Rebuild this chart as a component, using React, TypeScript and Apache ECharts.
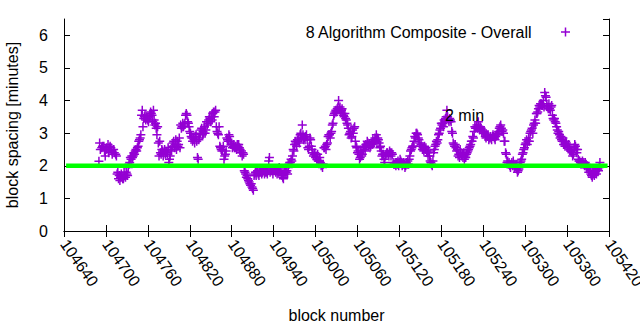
import React, { useEffect, useRef } from 'react';
import * as echarts from 'echarts';

const blocks = [104690,104691,104694,104697,104700,104703,104705,104708,104711,104714,104716,104718,104721,104724,104727,104730,104733,104736,104739,104742,104745,104748,104750,104752,104753,104756,104759,104762,104765,104768,104771,104774,104776,104777,104780,104783,104786,104788,104791,104794,104797,104800,104803,104806,104809,104812,104815,104818,104821,104823,104826,104829,104832,104834,104837,104840,104843,104846,104849,104852,104854,104857,104860,104862,104864,104867,104869,104871,104874,104877,104880,104882,104885,104888,104891,104894,104897,104899,104902,104904,104906,104909,104911,104913,104916,104919,104922,104925,104928,104931,104934,104937,104940,104943,104946,104949,104951,104954,104957,104960,104963,104966,104969,104972,104975,104978,104981,104984,104986,104989,104992,104995,104998,105001,105004,105007,105010,105013,105016,105019,105022,105025,105027,105030,105033,105034,105037,105040,105043,105046,105049,105052,105055,105058,105061,105064,105067,105069,105072,105075,105078,105081,105084,105087,105090,105093,105096,105099,105102,105105,105107,105110,105113,105116,105119,105122,105125,105128,105131,105134,105137,105140,105143,105145,105148,105151,105154,105157,105160,105163,105166,105169,105172,105175,105178,105181,105183,105186,105188,105190,105193,105196,105198,105201,105204,105207,105210,105213,105216,105218,105221,105224,105227,105230,105233,105236,105239,105242,105245,105248,105251,105253,105256,105259,105262,105265,105268,105271,105273,105275,105278,105281,105284,105287,105290,105293,105296,105299,105301,105304,105307,105310,105313,105316,105319,105322,105325,105328,105330,105332,105335,105338,105340,105343,105346,105349,105352,105355,105358,105360,105363,105366,105369,105372,105375,105378,105381,105384,105387,105390,105393,105395,105398,105401,105404,105407];

const spacing = [2.14,2.7,2.55,2.6,2.5,2.65,2.55,2.45,2.5,2.35,1.75,1.6,1.65,1.6,1.7,1.75,2.05,2.2,2.3,2.45,2.55,2.8,2.95,3.7,3.2,3.55,3.45,3.5,3.6,3.7,3.3,3.2,2.3,2.75,2.5,2.4,2.45,2.35,2.2,2.45,2.75,2.8,2.6,2.55,3.2,3.25,3.6,3.3,3.0,2.85,2.8,2.95,2.2,2.85,3.15,3.0,3.1,3.3,3.45,3.4,3.65,3.7,3.0,3.2,2.55,2.5,2.2,2.35,2.8,2.9,2.7,2.6,2.55,2.65,2.55,2.45,2.35,1.8,1.7,1.55,1.45,1.35,1.25,1.75,1.8,1.7,1.8,1.85,1.8,1.75,2.25,1.85,1.9,1.8,1.85,1.9,1.75,1.6,1.8,1.75,2.1,2.15,2.45,2.7,2.75,2.95,3.25,2.85,2.9,2.55,2.85,2.5,2.35,2.3,2.15,2.1,1.95,2.55,2.65,2.95,3.0,3.3,3.6,3.65,4.0,3.75,3.7,3.55,3.45,3.25,3.0,2.9,3.15,2.6,2.45,2.25,2.35,2.5,2.65,2.7,2.55,2.65,2.75,2.95,2.8,2.6,2.35,2.1,2.4,2.3,2.4,2.35,2.05,2.1,2.0,2.15,2.05,1.95,2.05,2.2,2.5,2.6,2.85,3.0,2.8,2.65,2.55,2.5,2.4,2.3,2.05,2.4,2.65,2.8,3.1,3.25,3.2,3.45,3.7,3.4,3.4,3.0,2.65,2.55,2.3,2.5,2.35,2.2,2.35,2.45,2.6,2.75,3.05,3.2,3.35,3.2,3.1,3.0,2.95,2.8,2.85,2.9,2.85,2.95,3.05,3.25,3.1,2.75,2.35,2.15,2.0,2.1,2.05,2.05,1.85,2.1,2.35,2.55,2.7,2.75,3.0,3.15,3.3,3.6,3.75,3.9,3.85,4.25,4.1,3.8,3.75,3.85,3.45,3.35,3.1,2.95,2.8,2.65,2.75,2.6,2.55,2.45,2.35,2.6,2.5,2.15,2.1,2.1,2.05,1.95,1.85,1.7,1.75,1.85,1.9,2.1];

// further blocks of the same series, [block, minutes]
const morePoints: [number, number][] = [
  [104692,2.5],[104695,2.6],[104698,2.45],[104699,2.3],[104701,2.55],[104704,2.4],[104706,2.6],[104707,2.55],[104709,2.35],[104712,2.4],[104715,2.3],
  [104717,1.8],[104719,1.7],[104720,1.55],[104722,1.75],[104723,1.65],[104725,1.6],[104726,1.8],[104728,1.65],[104729,1.8],[104731,1.7],
  [104732,1.95],[104734,2.1],[104735,2.25],[104737,2.3],[104738,2.25],[104740,2.4],[104741,2.35],[104743,2.5],[104744,2.45],[104746,2.6],[104747,2.75],[104749,2.85],
  [104751,3.55],[104754,3.45],[104755,3.5],[104757,3.4],[104758,3.5],[104760,3.4],[104761,3.35],[104763,3.55],[104764,3.65],[104766,3.55],[104767,3.35],[104769,3.4],[104770,3.25],[104772,3.15],[104773,2.95],
  [104775,2.7],[104778,2.4],[104779,2.35],[104781,2.45],[104782,2.3],[104784,2.5],[104785,2.35],[104787,2.4],[104789,2.55],[104790,2.1],[104792,2.3],[104793,2.5],
  [104795,2.6],[104796,2.7],[104798,2.55],[104799,2.65],[104801,2.5],[104802,2.75],[104804,2.65],[104805,2.85],[104807,3.25],[104808,3.15],[104810,3.3],[104811,3.2],[104813,3.3],[104814,3.55],[104816,3.55],[104817,3.35],[104819,3.2],[104820,3.05],
  [104822,2.9],[104824,2.75],[104825,2.85],[104827,2.7],[104828,2.9],[104830,2.75],[104831,2.25],[104833,2.8],[104835,3.0],[104836,3.1],[104838,2.95],[104839,3.05],[104841,3.2],[104842,3.0],[104844,3.35],[104845,3.25],[104847,3.4],[104848,3.5],[104850,3.35],[104851,3.5],[104853,3.6],[104855,3.5],[104856,3.65],[104858,3.2],[104859,3.05],
  [104861,2.95],[104863,2.6],[104865,2.5],[104866,2.45],[104868,2.6],[104870,2.3],[104872,2.45],[104873,2.85],[104875,2.75],[104876,2.95],[104878,2.75],[104879,2.65],[104881,2.55],[104883,2.65],[104884,2.55],[104886,2.6],[104887,2.5],[104889,2.6],[104890,2.65],[104892,2.5],[104893,2.4],[104895,2.3],[104896,2.4],[104898,1.85],
  [104900,1.75],[104901,1.65],[104903,1.6],[104905,1.5],[104907,1.4],[104908,1.45],[104910,1.3],[104912,1.7],[104914,1.8],[104915,1.7],[104917,1.85],[104918,1.75],[104920,1.8],[104921,1.9],[104923,1.75],[104924,1.8],[104926,1.9],[104927,1.75],[104929,1.85],[104930,1.8],[104932,1.85],
  [104933,2.15],[104935,1.8],[104936,1.9],[104938,1.85],[104939,1.75],[104941,1.85],[104942,1.9],[104944,1.85],[104945,1.75],[104947,1.8],[104948,1.95],[104950,1.85],[104952,1.7],[104953,1.65],[104955,1.75],[104956,1.85],[104958,1.8],[104959,1.85],[104961,1.95],[104962,2.05],
  [104964,2.1],[104965,2.2],[104967,2.3],[104968,2.5],[104970,2.65],[104971,2.75],[104973,2.6],[104974,2.8],[104976,2.85],[104977,2.7],[104979,3.0],[104980,2.85],[104982,2.95],[104983,2.8],
  [104985,2.8],[104987,2.95],[104988,2.8],[104990,2.5],[104991,2.6],[104993,2.8],[104994,2.6],[104996,2.4],[104997,2.3],[104999,2.4],[105000,2.25],[105002,2.2],[105003,2.35],[105005,2.15],[105006,2.25],[105008,2.0],[105009,2.05],[105011,2.05],[105012,2.55],
  [105014,2.6],[105015,2.5],[105017,2.7],[105018,2.9],[105020,2.95],[105021,2.85],[105023,3.05],[105024,3.25],[105026,3.55],[105028,3.65],[105029,3.7],[105031,3.75],[105032,3.8],
  [105035,3.8],[105036,3.65],[105038,3.75],[105039,3.6],[105041,3.5],[105042,3.6],[105044,3.4],[105045,3.3],[105047,3.15],[105048,2.95],[105050,3.05],[105051,2.85],[105053,3.1],[105054,3.0],[105056,3.2],[105057,2.75],[105059,2.55],[105060,2.4],
  [105062,2.35],[105063,2.2],[105065,2.45],[105066,2.3],[105068,2.55],[105070,2.6],[105071,2.45],[105073,2.6],[105074,2.75],[105076,2.6],[105077,2.65],[105079,2.6],[105080,2.7],[105082,2.8],[105083,2.7],[105085,2.85],[105086,2.8],[105088,2.75],[105089,2.85],[105091,2.7],[105092,2.55],[105094,2.45],[105095,2.3],[105097,2.35],[105098,2.2],[105100,2.3],
  [105101,2.35],[105103,2.4],[105104,2.35],[105106,2.45],[105108,2.3],[105109,2.4],[105111,2.1],[105112,2.05],[105114,2.1],[105115,2.0],[105117,2.05],[105118,2.15],[105120,2.1],[105121,2.2],[105123,2.1],[105124,2.0],[105126,2.1],[105127,2.05],[105129,2.0],[105130,2.1],[105132,2.15],[105133,2.05],[105135,2.3],
  [105136,2.45],[105138,2.55],[105139,2.6],[105141,2.75],[105142,2.9],[105144,3.0],[105146,2.95],
  [105147,2.85],[105149,2.7],[105150,2.6],[105152,2.6],[105153,2.5],[105155,2.45],[105156,2.6],[105158,2.55],[105159,2.45],[105161,2.3],[105162,2.45],[105164,2.15],[105165,2.1],[105167,2.0],
  [105168,2.15],[105170,2.5],[105171,2.6],[105173,2.75],[105174,2.7],[105176,2.95],[105177,3.0],[105179,3.15],[105180,3.3],[105182,3.3],[105184,3.4],[105185,3.35],[105187,3.5],
  [105189,3.5],[105191,3.35],[105192,3.45],[105194,3.35],[105195,3.05],[105197,2.7],[105199,2.6],[105200,2.65],[105202,2.45],[105203,2.5],[105205,2.35],[105206,2.25],[105208,2.4],[105209,2.3],[105211,2.25],[105212,2.4],[105214,2.3],[105215,2.25],
  [105217,2.4],[105219,2.5],[105220,2.55],[105222,2.65],[105223,2.75],[105225,2.9],[105226,2.85],[105228,3.2],[105229,3.15],[105231,3.25],[105232,3.15],[105234,3.2],[105235,3.1],[105237,3.15],[105238,3.05],[105240,3.0],
  [105241,3.05],[105243,2.9],[105244,2.85],[105246,2.9],[105247,2.95],[105249,2.85],[105250,2.9],[105252,2.8],[105254,2.95],[105255,2.9],[105257,2.8],[105258,2.9],[105260,3.0],[105261,2.95],[105263,3.15],[105264,3.2],[105266,3.15],[105267,3.05],[105269,3.0],[105270,2.75],[105272,2.4],
  [105274,2.1],[105276,2.05],[105277,2.1],[105279,1.95],[105280,2.05],[105282,2.0],[105283,2.15],[105285,1.95],[105286,2.0],[105288,1.9],[105289,1.8],[105291,1.9],[105292,2.0],[105294,2.15],[105295,2.2],[105297,2.4],[105298,2.5],[105300,2.65],
  [105302,2.8],[105303,2.65],[105305,2.85],[105306,2.75],[105308,3.05],[105309,3.1],[105311,3.0],[105312,3.25],[105314,3.4],[105315,3.3],[105317,3.6],[105318,3.65],[105320,3.85],[105321,3.8],[105323,3.9],[105324,3.85],[105326,4.0],[105327,3.8],[105329,4.15],[105331,3.85],
  [105333,3.75],[105334,3.9],[105336,3.7],[105337,3.8],[105339,3.55],[105341,3.4],[105342,3.45],[105344,3.3],[105345,3.2],[105347,3.0],[105348,3.05],[105350,2.85],[105351,2.9],[105353,2.75],[105354,2.85],[105356,2.65],[105357,2.6],[105359,2.7],[105361,2.55],[105362,2.65],[105364,2.5],[105365,2.45],
  [105367,2.4],[105368,2.3],[105370,2.55],[105371,2.65],[105373,2.5],[105374,2.4],[105376,2.2],[105377,2.15],[105379,2.1],[105380,2.05],[105382,2.15],[105383,2.05],[105385,2.0],[105386,2.1],[105388,1.95],[105389,2.0],[105391,1.8],[105392,1.9],[105394,1.75],[105396,1.65],[105397,1.8],[105399,1.7],[105400,1.8],[105402,1.75],[105403,1.9],[105405,1.85],[105406,1.95],
];

const refBlocks = [104643, 105418];
const refValues = [2, 2];

const seriesName = '8 Algorithm Composite - Overall';
const refName = '2 min';

const FONT = '"Liberation Sans", Arial, sans-serif';
const PLUS = 'path://M3.75,0H5.25V3.75H9V5.25H5.25V9H3.75V5.25H0V3.75H3.75Z';

export default function App() {
  const ref = useRef<HTMLDivElement>(null);
  useEffect(() => {
    document.body.style.margin = '0';
    if (!ref.current) return;
    const chart = echarts.init(ref.current, undefined, { renderer: 'svg' });
    const axisCommon = {
      axisLine: { show: true, lineStyle: { color: '#000', width: 1 } },
      axisTick: { show: true, inside: true, length: 6, lineStyle: { color: '#000', width: 1 } },
      splitLine: { show: false },
    };
    const points = blocks.map((b, i) => [b, spacing[i]]).concat(morePoints.map((p) => [p[0], p[1]]));
    chart.setOption({
      animation: false,
      backgroundColor: '#fff',
      textStyle: { fontFamily: FONT },
      grid: { left: 64, right: 31, top: 19, bottom: 99, containLabel: false, outerBoundsMode: 'none' },
      legend: {
        data: [{ name: seriesName, icon: PLUS }],
        align: 'right',
        right: 65,
        top: 19,
        itemWidth: 58,
        itemHeight: 9,
        textStyle: { fontSize: 16, color: '#000', fontFamily: FONT },
      },
      xAxis: [
        {
          type: 'value',
          position: 'bottom',
          min: 104640,
          max: 105420,
          interval: 60,
          ...axisCommon,
          axisLabel: {
            rotate: -55,
            color: '#000',
            fontSize: 16,
            fontFamily: FONT,
            margin: 10,
            formatter: (v: number) => String(v),
          },
          name: 'block number',
          nameLocation: 'middle',
          nameGap: 76,
          nameTextStyle: { fontSize: 16, color: '#000', fontFamily: FONT },
        },
        {
          type: 'value',
          position: 'top',
          min: 104640,
          max: 105420,
          interval: 60,
          ...axisCommon,
          axisLabel: { show: false },
        },
      ],
      yAxis: [
        {
          type: 'value',
          position: 'left',
          min: 0,
          max: 6.5,
          interval: 1,
          ...axisCommon,
          axisLabel: {
            color: '#000',
            fontSize: 16,
            fontFamily: FONT,
            margin: 16,
            showMaxLabel: false,
            formatter: (v: number) => String(v),
          },
          name: 'block spacing [minutes]',
          nameLocation: 'middle',
          nameRotate: 90,
          nameGap: 44,
          nameTextStyle: { fontSize: 16, color: '#000', fontFamily: FONT },
        },
        {
          type: 'value',
          position: 'right',
          min: 0,
          max: 6.5,
          interval: 1,
          ...axisCommon,
          axisLabel: { show: false },
        },
      ],
      series: [
        {
          name: seriesName,
          type: 'scatter',
          symbol: PLUS,
          symbolSize: 9,
          itemStyle: { color: '#9400d3', opacity: 1 },
          data: points,
          z: 2,
        },
        {
          name: refName,
          type: 'line',
          symbol: 'none',
          lineStyle: { color: '#00ff00', width: 4.5 },
          data: refBlocks.map((b, i) => [b, refValues[i]]),
          z: 3,
        },
      ],
      graphic: [
        {
          type: 'text',
          left: 445,
          top: 107,
          z: 10,
          style: { text: refName, fontSize: 16, fill: '#000', fontFamily: FONT },
        },
      ],
    });
    return () => chart.dispose();
  }, []);
  return <div ref={ref} style={{ width: 640, height: 330 }} />;
}
